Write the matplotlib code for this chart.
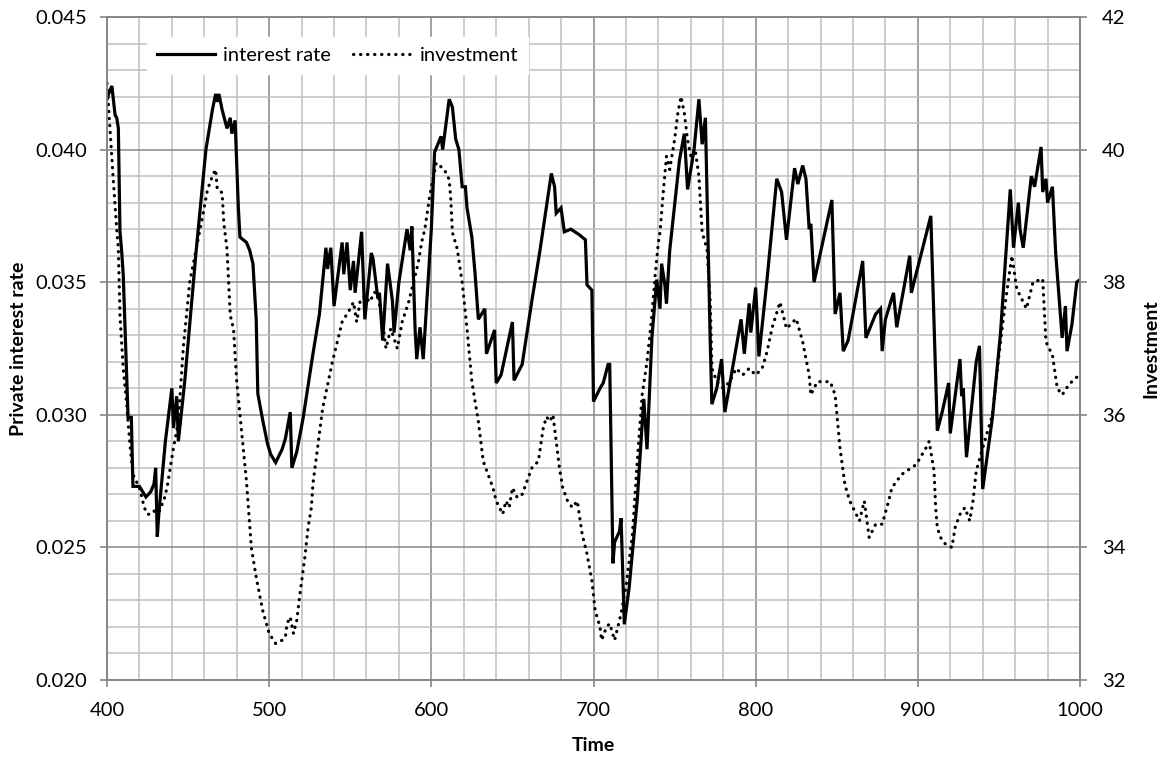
import numpy as np
import matplotlib
matplotlib.use("Agg")
import matplotlib.pyplot as plt
from matplotlib.ticker import MultipleLocator, FormatStrFormatter

plt.rcParams['font.family'] = ['Lato', 'DejaVu Sans']

# interest rate (left axis)
rate_t = [400, 401, 403, 405, 406, 407, 408, 409, 410, 413, 415, 416, 420, 422, 424, 427,
          429, 430, 431, 432, 436, 440, 441, 443, 444, 448, 455, 461, 465, 467, 468, 469,
          471, 474, 476, 477, 479, 481, 482, 486, 488, 490, 492, 493, 496, 499, 501, 504,
          508, 510, 513, 514, 517, 521, 527, 531, 535, 536, 538, 540, 545, 546, 548, 550,
          552, 553, 557, 559, 563, 564, 567, 568, 570, 573, 576, 577, 580, 585, 587, 588,
          590, 591, 593, 595, 600, 602, 606, 607, 611, 613, 615, 617, 619, 621, 622, 625,
          627, 629, 633, 634, 639, 640, 643, 650, 651, 656, 662, 667, 674, 676, 677, 680,
          682, 686, 691, 695, 696, 699, 700, 704, 706, 709, 710, 712, 713, 716, 717, 719,
          722, 727, 731, 733, 736, 739, 741, 742, 744, 745, 747, 753, 756, 758, 762, 765,
          767, 769, 772, 773, 776, 779, 781, 791, 793, 796, 797, 800, 802, 807, 813, 816,
          819, 824, 826, 829, 831, 833, 834, 836, 847, 849, 852, 854, 857, 866, 868, 874,
          877, 878, 880, 885, 887, 895, 896, 908, 912, 915, 919, 920, 926, 927, 928, 930,
          936, 938, 940, 946, 951, 957, 959, 962, 963, 965, 970, 972, 976, 977, 979, 980,
          983, 985, 989, 991, 992, 995, 998, 1000]
rate_v = [0.0419, 0.0421, 0.0424, 0.0413, 0.0412, 0.0408, 0.0369, 0.0362, 0.0353, 0.0299,
          0.0299, 0.0273, 0.0273, 0.0271, 0.0269, 0.0271, 0.0274, 0.0280, 0.0254, 0.0263,
          0.0290, 0.0310, 0.0295, 0.0307, 0.0290, 0.0313, 0.0362, 0.0400, 0.0415, 0.0421,
          0.0418, 0.0421, 0.0415, 0.0408, 0.0412, 0.0406, 0.0411, 0.0378, 0.0367, 0.0365,
          0.0362, 0.0357, 0.0336, 0.0308, 0.0298, 0.0289, 0.0285, 0.0282, 0.0287, 0.0291,
          0.0301, 0.0280, 0.0286, 0.0299, 0.0323, 0.0338, 0.0363, 0.0355, 0.0363, 0.0341,
          0.0365, 0.0353, 0.0365, 0.0347, 0.0358, 0.0346, 0.0369, 0.0336, 0.0361, 0.0359,
          0.0344, 0.0346, 0.0328, 0.0357, 0.0343, 0.0331, 0.0350, 0.0370, 0.0362, 0.0371,
          0.0332, 0.0321, 0.0333, 0.0321, 0.0370, 0.0399, 0.0405, 0.0400, 0.0419, 0.0416,
          0.0404, 0.0400, 0.0386, 0.0386, 0.0378, 0.0367, 0.0353, 0.0336, 0.0340, 0.0323,
          0.0332, 0.0312, 0.0315, 0.0335, 0.0313, 0.0319, 0.0343, 0.0362, 0.0391, 0.0386,
          0.0376, 0.0378, 0.0369, 0.0370, 0.0368, 0.0366, 0.0349, 0.0347, 0.0305, 0.0310,
          0.0312, 0.0319, 0.0319, 0.0244, 0.0252, 0.0256, 0.0261, 0.0221, 0.0235, 0.0268,
          0.0306, 0.0287, 0.0329, 0.0351, 0.0340, 0.0357, 0.0349, 0.0342, 0.0362, 0.0396,
          0.0406, 0.0385, 0.0400, 0.0419, 0.0402, 0.0412, 0.0327, 0.0304, 0.0310, 0.0321,
          0.0301, 0.0336, 0.0323, 0.0342, 0.0331, 0.0348, 0.0322, 0.0351, 0.0389, 0.0384,
          0.0366, 0.0393, 0.0387, 0.0394, 0.0389, 0.0370, 0.0372, 0.0350, 0.0381, 0.0338,
          0.0346, 0.0324, 0.0328, 0.0358, 0.0329, 0.0338, 0.0340, 0.0324, 0.0336, 0.0346,
          0.0333, 0.0360, 0.0346, 0.0375, 0.0294, 0.0301, 0.0312, 0.0293, 0.0321, 0.0307,
          0.0310, 0.0284, 0.0320, 0.0326, 0.0272, 0.0299, 0.0331, 0.0385, 0.0363, 0.0380,
          0.0370, 0.0363, 0.0390, 0.0386, 0.0401, 0.0384, 0.0389, 0.0380, 0.0386, 0.0361,
          0.0329, 0.0341, 0.0324, 0.0334, 0.0350, 0.0351]

# investment (right axis)
inv_t = [400, 402, 404, 406, 407, 408, 410, 412, 414, 416, 420, 423, 425, 427, 429, 431,
         433, 435, 437, 441, 444, 447, 451, 455, 459, 462, 465, 467, 468, 471, 472, 474,
         476, 478, 480, 482, 486, 489, 492, 496, 500, 504, 508, 510, 511, 513, 515, 517,
         519, 522, 524, 526, 527, 533, 539, 542, 545, 550, 552, 554, 556, 559, 562, 565,
         567, 570, 572, 575, 579, 582, 586, 589, 592, 594, 596, 599, 603, 608, 611, 612,
         613, 616, 619, 622, 625, 629, 632, 638, 640, 644, 646, 648, 650, 653, 656, 662,
         666, 669, 671, 673, 675, 677, 679, 681, 684, 687, 690, 693, 696, 699, 701, 704,
         705, 708, 710, 713, 715, 717, 720, 724, 727, 730, 733, 736, 738, 740, 741, 743,
         745, 747, 750, 752, 754, 756, 758, 760, 763, 765, 767, 770, 772, 773, 776, 780,
         784, 788, 792, 796, 800, 804, 807, 810, 815, 819, 825, 829, 833, 834, 838, 846,
         849, 852, 855, 858, 862, 864, 867, 870, 874, 878, 882, 884, 890, 899, 905, 907,
         910, 911, 912, 914, 917, 921, 923, 926, 929, 932, 934, 936, 940, 946, 950, 954,
         958, 961, 967, 971, 977, 979, 983, 986, 989, 993, 997, 1000]
inv_v = [41.0, 40.25, 39.5, 38.8, 38.5, 37.5, 36.7, 36.2, 35.6, 35.1, 34.9, 34.6, 34.5,
         34.5, 34.55, 34.45, 34.6, 34.7, 34.9, 35.5, 35.9, 37.0, 38.0, 38.5, 39.0, 39.4,
         39.6, 39.7, 39.4, 39.35, 38.9, 38.5, 37.5, 37.3, 36.5, 36.0, 35.0, 34.0, 33.55,
         33.05, 32.7, 32.55, 32.6, 32.65, 32.85, 32.95, 32.7, 32.9, 33.3, 33.85, 34.3, 34.6,
         34.96, 36.1, 36.8, 37.1, 37.4, 37.6, 37.7, 37.4, 37.7, 37.8, 37.7, 37.85, 37.8,
         37.4, 37.0, 37.3, 37.0, 37.4, 37.7, 38.0, 38.3, 38.6, 38.8, 39.3, 39.8, 39.7,
         39.55, 39.25, 38.75, 38.5, 38.0, 37.3, 36.5, 35.9, 35.3, 34.9, 34.7, 34.5, 34.7,
         34.6, 34.9, 34.75, 34.8, 35.2, 35.3, 35.8, 35.97, 35.9, 36.0, 35.6, 35.2, 34.9,
         34.7, 34.6, 34.7, 34.2, 33.9, 33.5, 33.05, 32.8, 32.6, 32.8, 32.85, 32.6, 32.8,
         33.0, 33.4, 34.2, 35.3, 36.3, 36.8, 37.5, 38.1, 38.6, 38.75, 39.35, 39.9, 39.7,
         40.15, 40.55, 40.8, 40.55, 40.15, 39.9, 39.95, 39.6, 38.75, 38.5, 37.7, 36.7,
         36.5, 36.4, 36.5, 36.7, 36.6, 36.7, 36.6, 36.7, 36.95, 37.3, 37.7, 37.3, 37.45,
         37.1, 36.6, 36.3, 36.5, 36.5, 36.3, 35.5, 34.95, 34.7, 34.5, 34.4, 34.7, 34.15,
         34.35, 34.35, 34.7, 34.9, 35.1, 35.25, 35.5, 35.6, 35.15, 34.6, 34.3, 34.15,
         34.05, 34.0, 34.3, 34.5, 34.6, 34.4, 34.7, 35.15, 35.5, 36.0, 36.9, 37.7, 38.4,
         37.9, 37.6, 38.0, 38.05, 37.1, 36.9, 36.4, 36.3, 36.45, 36.55, 36.6]

fig = plt.figure(figsize=(11.72, 7.57), dpi=100)
ax = fig.add_axes([107/1172, 1 - 680/757, 973/1172, 663/757])
ax2 = ax.twinx()

grid_major = '#868686'
grid_minor = '#c0c0c0'

ax.set_xlim(400, 1000)
ax.set_ylim(0.020, 0.045)
ax2.set_ylim(32, 42)

ax.xaxis.set_major_locator(MultipleLocator(100))
ax.xaxis.set_minor_locator(MultipleLocator(20))
ax.yaxis.set_major_locator(MultipleLocator(0.005))
ax.yaxis.set_minor_locator(MultipleLocator(0.001))
ax.yaxis.set_major_formatter(FormatStrFormatter('%.3f'))
ax2.yaxis.set_major_locator(MultipleLocator(2))

ax.set_axisbelow(True)
ax.grid(which='minor', color=grid_minor, lw=1.1)
ax.grid(which='major', color=grid_major, lw=1.1)

for a in (ax, ax2):
    for s in a.spines.values():
        s.set_color(grid_major)
        s.set_linewidth(1.2)
    a.tick_params(which='major', length=5, width=1.2, color=grid_major,
                  labelsize=14.5, labelcolor='black')
    a.tick_params(which='minor', length=0)
ax.tick_params(axis='y', pad=9)
ax.tick_params(axis='x', pad=11)
ax2.tick_params(axis='y', pad=11)

l1, = ax.plot(rate_t, rate_v, color='black', lw=2.3, solid_joinstyle='miter',
              label='interest rate')
l2, = ax2.plot(inv_t, inv_v, color='black', lw=2.3, linestyle=(0, (0.1, 2.1)),
               dash_capstyle='round', label='investment')

ax.set_xlabel('Time', fontsize=14, fontweight='bold', labelpad=13)
ax.set_ylabel('Private interest rate', fontsize=14, fontweight='bold', labelpad=6)
ax2.set_ylabel('Investment', fontsize=14, fontweight='bold', labelpad=12)

leg = ax2.legend(handles=[l1, l2], loc='upper left', bbox_to_anchor=(0.041, 0.97),
                 ncol=2, frameon=True, fancybox=False, fontsize=14.5,
                 handlelength=2.9, handletextpad=0.4, columnspacing=1.1,
                 borderaxespad=0, borderpad=0.5)
leg.get_frame().set_facecolor('white')
leg.get_frame().set_edgecolor('white')
leg.get_frame().set_alpha(1)

fig.savefig('out.png', dpi=100)
